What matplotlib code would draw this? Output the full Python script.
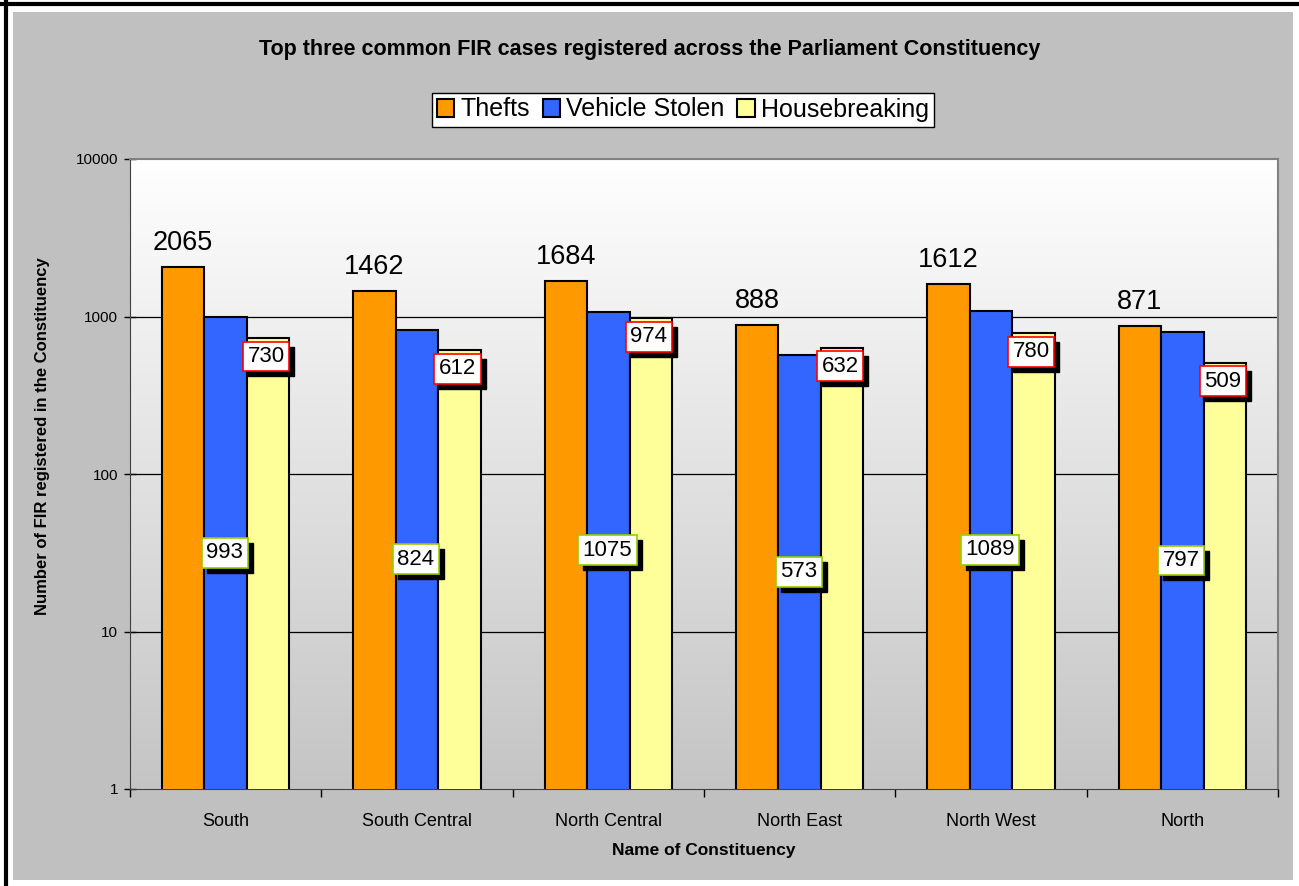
import numpy as np
import matplotlib.pyplot as plt
from matplotlib.patches import Rectangle
from matplotlib.lines import Line2D

plt.rcParams['font.family'] = ['Liberation Sans', 'DejaVu Sans']

constituencies = ["South", "South Central", "North Central", "North East", "North West", "North"]
thefts = [2065, 1462, 1684, 888, 1612, 871]
vehicle_stolen = [993, 824, 1075, 573, 1089, 797]
housebreaking = [730, 612, 974, 632, 780, 509]
series_names = ["Thefts", "Vehicle Stolen", "Housebreaking"]
colors = ["#FF9900", "#3366FF", "#FFFF99"]

W, H = 1299, 886
fig = plt.figure(figsize=(W / 100, H / 100), dpi=100, facecolor="white")

# outer gray chart area and the black frame lines
fig.add_artist(Rectangle((13 / W, 1 - 880 / H), (1293 - 13) / W, (880 - 12) / H,
                         transform=fig.transFigure, facecolor="#C0C0C0", edgecolor="none", zorder=-10))
fig.add_artist(Line2D([0, 1], [1 - 3.5 / H, 1 - 3.5 / H], transform=fig.transFigure, color="black", lw=3))
fig.add_artist(Line2D([6 / W, 6 / W], [0, 1], transform=fig.transFigure, color="black", lw=3))

ax = fig.add_axes([130 / W, 1 - 789 / H, (1278 - 130) / W, (789 - 159) / H])
ax.set_yscale("log")
ax.set_ylim(1, 10000)
ax.set_xlim(-0.5, len(constituencies) - 0.5)
ax.set_facecolor("none")

# gradient plot area
grad = np.linspace(1, 0, 256).reshape(-1, 1)
top, bottom = np.array([1.0, 1.0, 1.0]), np.array([0.77, 0.77, 0.77])
img = bottom + (top - bottom) * grad[..., None]
ax.imshow(img, extent=[0, 1, 0, 1], transform=ax.transAxes, aspect="auto", zorder=0)

for v in [10, 100, 1000]:
    ax.axhline(v, color="black", lw=0.9, zorder=1)

x = np.arange(len(constituencies))
w = 0.222
for i, (vals, col) in enumerate(zip([thefts, vehicle_stolen, housebreaking], colors)):
    ax.bar(x + (i - 1) * w, vals, w, color=col, edgecolor="black", lw=1.5, zorder=3,
           label=series_names[i])

# Thefts labels above bars
for xi, v in zip(x - w, thefts):
    ax.annotate(str(v), (xi, v), xytext=(0, 11), textcoords="offset pixels",
                ha="center", va="bottom", fontsize=19.5, zorder=6)


def boxed(xi, yv, text, edge, dx, dy, va):
    # shadow
    ax.annotate(text, (xi, yv), xytext=(dx + 5, dy - 5), textcoords="offset pixels",
                ha="center", va=va, fontsize=16, color="black", zorder=5,
                bbox=dict(boxstyle="square,pad=0.2", fc="black", ec="black", lw=1))
    ax.annotate(text, (xi, yv), xytext=(dx, dy), textcoords="offset pixels",
                ha="center", va=va, fontsize=16, color="black", zorder=6,
                bbox=dict(boxstyle="square,pad=0.2", fc="white", ec=edge, lw=1.2))


for xi, v in zip(x, vehicle_stolen):
    boxed(xi, np.sqrt(v), str(v), "#99CC00", -1, 0, "center")

for xi, v in zip(x + w, housebreaking):
    boxed(xi, v, str(v), "#FF0000", -2, -8, "top")

ax.set_yticks([1, 10, 100, 1000, 10000])
ax.set_yticklabels(["1", "10", "100", "1000", "10000"], fontsize=11)
ax.yaxis.set_minor_locator(plt.NullLocator())
ax.tick_params(axis="y", direction="inout", length=9, width=1, color="black", pad=4)

ax.set_xticks(x)
ax.set_xticklabels(constituencies, fontsize=13)
ax.set_xticks(np.arange(-0.5, len(constituencies)), minor=True)
ax.tick_params(axis="x", which="major", length=0, pad=17)
ax.tick_params(axis="x", which="minor", direction="out", length=6, width=1, color="black")

for s in ["top", "right"]:
    ax.spines[s].set_color("#808080")
    ax.spines[s].set_linewidth(1.5)
ax.spines["left"].set_color("#404040")
ax.spines["bottom"].set_color("#404040")

ax.set_ylabel("Number of FIR registered in the Constituency", fontsize=12, fontweight="bold")
ax.yaxis.set_label_coords(-80 / 1148, (789 - 436) / 630)
ax.set_xlabel("Name of Constituency", fontsize=12.5, fontweight="bold", labelpad=10)

fig.text(0.5, 1 - 50 / H, "Top three common FIR cases registered across the Parliament Constituency",
         ha="center", va="center", fontsize=15.5, fontweight="bold")

leg = fig.legend(loc="center", bbox_to_anchor=(683 / W, 1 - 109.5 / H), ncol=3, fontsize=18,
                 handlelength=0.7, handleheight=0.7, handletextpad=0.25, columnspacing=0.5,
                 frameon=True, fancybox=False, borderpad=0.2, borderaxespad=0, framealpha=1)
leg.get_frame().set_edgecolor("black")
leg.get_frame().set_facecolor("white")
leg.get_frame().set_linewidth(1)

fig.savefig("out.png", dpi=100, facecolor="white")
